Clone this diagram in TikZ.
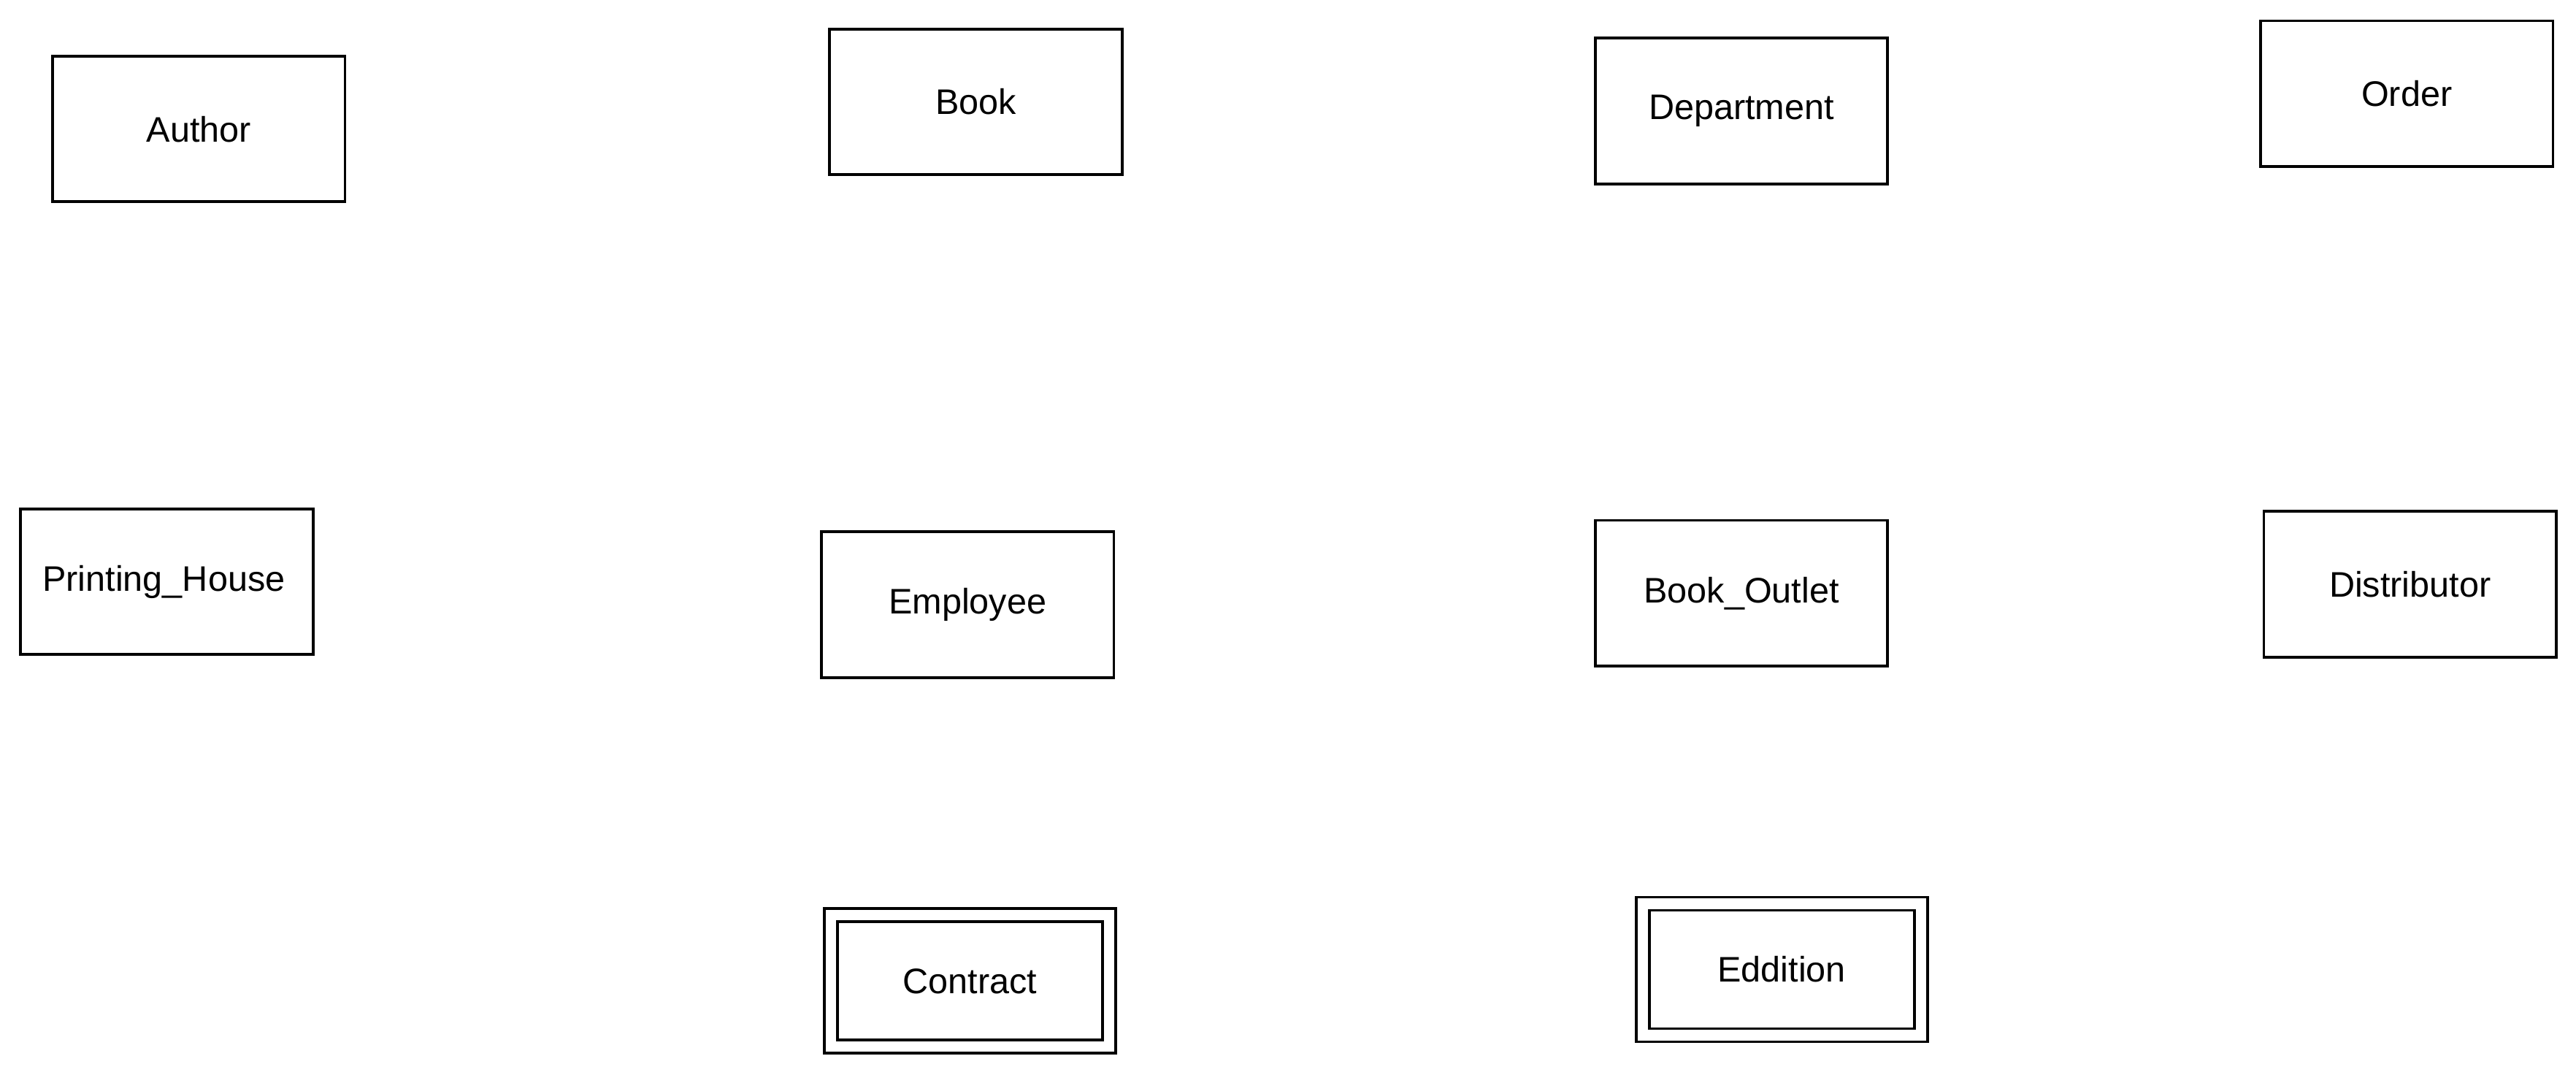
\documentclass[tikz,border=0pt]{standalone}
\usepackage{fontspec}
\setmainfont{Liberation Sans}
\usepackage{tikz}
\tikzset{
	entity/.style={draw, line width=1.3pt, inner sep=0pt, minimum width=133.5pt, minimum height=66.5pt, font=\fontsize{16.2}{19}\selectfont},
	weakentity/.style={entity, double, double distance=4.7pt, minimum width=127pt, minimum height=60pt}
}

\begin{document}
\begin{tikzpicture}[x=0.75pt,y=-0.75pt]
		\useasboundingbox (0,0) rectangle (1568,654.2);

		\node[entity] (author)     at (121,78.5)   {Author};
		\node[entity] (book)       at (594,62)     {Book};
		\node[entity] (department) at (1060,67.5)  {Department};
		\node[entity] (order)      at (1465,57)    {Order};

		\node[entity] (printing)   at (101.5,354)  {Printing\_House\,};
		\node[entity] (employee)   at (589,368)    {Employee};
		\node[entity] (outlet)     at (1060,361)   {Book\_Outlet};
		\node[entity] (distributor) at (1467,355.5) {Distributor};

		\node[weakentity] (contract) at (590.5,597) {Contract};
		\node[weakentity] (eddition) at (1084.5,590) {Eddition};
	\end{tikzpicture}
\end{document}
